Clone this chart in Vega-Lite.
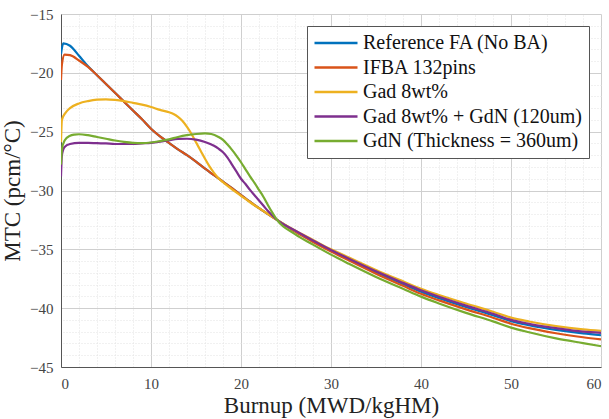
{
  "$schema": "https://vega.github.io/schema/vega-lite/v6.json",
  "width": 540,
  "height": 353,
  "autosize": "none",
  "padding": {"left": 61, "top": 14, "right": 8, "bottom": 52},
  "background": "white",
  "config": {"view": {"stroke": null}},
  "data": {"values": [
    {"series": "Reference FA (No BA)", "burnup": 0, "mtc": -18.4},
    {"series": "Reference FA (No BA)", "burnup": 0.25, "mtc": -17.5},
    {"series": "Reference FA (No BA)", "burnup": 1, "mtc": -17.7},
    {"series": "Reference FA (No BA)", "burnup": 2, "mtc": -18.55},
    {"series": "Reference FA (No BA)", "burnup": 3, "mtc": -19.45},
    {"series": "Reference FA (No BA)", "burnup": 4, "mtc": -20.2},
    {"series": "Reference FA (No BA)", "burnup": 5, "mtc": -20.95},
    {"series": "Reference FA (No BA)", "burnup": 6, "mtc": -21.7},
    {"series": "Reference FA (No BA)", "burnup": 7, "mtc": -22.45},
    {"series": "Reference FA (No BA)", "burnup": 8, "mtc": -23.2},
    {"series": "Reference FA (No BA)", "burnup": 9, "mtc": -23.95},
    {"series": "Reference FA (No BA)", "burnup": 10, "mtc": -24.75},
    {"series": "Reference FA (No BA)", "burnup": 11, "mtc": -25.4},
    {"series": "Reference FA (No BA)", "burnup": 12, "mtc": -25.95},
    {"series": "Reference FA (No BA)", "burnup": 13, "mtc": -26.5},
    {"series": "Reference FA (No BA)", "burnup": 14, "mtc": -27.0},
    {"series": "Reference FA (No BA)", "burnup": 15, "mtc": -27.55},
    {"series": "Reference FA (No BA)", "burnup": 16, "mtc": -28.15},
    {"series": "Reference FA (No BA)", "burnup": 17, "mtc": -28.7},
    {"series": "Reference FA (No BA)", "burnup": 18, "mtc": -29.25},
    {"series": "Reference FA (No BA)", "burnup": 19, "mtc": -29.8},
    {"series": "Reference FA (No BA)", "burnup": 20, "mtc": -30.4},
    {"series": "Reference FA (No BA)", "burnup": 21, "mtc": -30.95},
    {"series": "Reference FA (No BA)", "burnup": 22, "mtc": -31.5},
    {"series": "Reference FA (No BA)", "burnup": 23, "mtc": -32.0},
    {"series": "Reference FA (No BA)", "burnup": 24, "mtc": -32.5},
    {"series": "Reference FA (No BA)", "burnup": 26, "mtc": -33.45},
    {"series": "Reference FA (No BA)", "burnup": 28, "mtc": -34.3},
    {"series": "Reference FA (No BA)", "burnup": 30, "mtc": -35.1},
    {"series": "Reference FA (No BA)", "burnup": 32, "mtc": -35.85},
    {"series": "Reference FA (No BA)", "burnup": 35, "mtc": -36.95},
    {"series": "Reference FA (No BA)", "burnup": 38, "mtc": -37.95},
    {"series": "Reference FA (No BA)", "burnup": 40, "mtc": -38.6},
    {"series": "Reference FA (No BA)", "burnup": 42, "mtc": -39.15},
    {"series": "Reference FA (No BA)", "burnup": 45, "mtc": -39.9},
    {"series": "Reference FA (No BA)", "burnup": 48, "mtc": -40.6},
    {"series": "Reference FA (No BA)", "burnup": 50, "mtc": -41.1},
    {"series": "Reference FA (No BA)", "burnup": 52, "mtc": -41.45},
    {"series": "Reference FA (No BA)", "burnup": 55, "mtc": -41.85},
    {"series": "Reference FA (No BA)", "burnup": 58, "mtc": -42.15},
    {"series": "Reference FA (No BA)", "burnup": 60, "mtc": -42.3},

    {"series": "IFBA 132pins", "burnup": 0, "mtc": -20.6},
    {"series": "IFBA 132pins", "burnup": 0.1, "mtc": -19.3},
    {"series": "IFBA 132pins", "burnup": 0.4, "mtc": -18.45},
    {"series": "IFBA 132pins", "burnup": 1, "mtc": -18.5},
    {"series": "IFBA 132pins", "burnup": 2, "mtc": -18.95},
    {"series": "IFBA 132pins", "burnup": 3, "mtc": -19.5},
    {"series": "IFBA 132pins", "burnup": 4, "mtc": -20.2},
    {"series": "IFBA 132pins", "burnup": 5, "mtc": -20.95},
    {"series": "IFBA 132pins", "burnup": 6, "mtc": -21.7},
    {"series": "IFBA 132pins", "burnup": 7, "mtc": -22.45},
    {"series": "IFBA 132pins", "burnup": 8, "mtc": -23.2},
    {"series": "IFBA 132pins", "burnup": 9, "mtc": -23.95},
    {"series": "IFBA 132pins", "burnup": 10, "mtc": -24.75},
    {"series": "IFBA 132pins", "burnup": 11, "mtc": -25.4},
    {"series": "IFBA 132pins", "burnup": 12, "mtc": -25.95},
    {"series": "IFBA 132pins", "burnup": 13, "mtc": -26.5},
    {"series": "IFBA 132pins", "burnup": 14, "mtc": -27.0},
    {"series": "IFBA 132pins", "burnup": 15, "mtc": -27.55},
    {"series": "IFBA 132pins", "burnup": 16, "mtc": -28.15},
    {"series": "IFBA 132pins", "burnup": 17, "mtc": -28.7},
    {"series": "IFBA 132pins", "burnup": 18, "mtc": -29.25},
    {"series": "IFBA 132pins", "burnup": 19, "mtc": -29.8},
    {"series": "IFBA 132pins", "burnup": 20, "mtc": -30.4},
    {"series": "IFBA 132pins", "burnup": 21, "mtc": -30.95},
    {"series": "IFBA 132pins", "burnup": 22, "mtc": -31.5},
    {"series": "IFBA 132pins", "burnup": 23, "mtc": -32.0},
    {"series": "IFBA 132pins", "burnup": 24, "mtc": -32.5},
    {"series": "IFBA 132pins", "burnup": 26, "mtc": -33.5},
    {"series": "IFBA 132pins", "burnup": 28, "mtc": -34.37},
    {"series": "IFBA 132pins", "burnup": 30, "mtc": -35.18},
    {"series": "IFBA 132pins", "burnup": 32, "mtc": -35.95},
    {"series": "IFBA 132pins", "burnup": 35, "mtc": -37.07},
    {"series": "IFBA 132pins", "burnup": 38, "mtc": -38.1},
    {"series": "IFBA 132pins", "burnup": 40, "mtc": -38.78},
    {"series": "IFBA 132pins", "burnup": 42, "mtc": -39.34},
    {"series": "IFBA 132pins", "burnup": 45, "mtc": -40.1},
    {"series": "IFBA 132pins", "burnup": 48, "mtc": -40.81},
    {"series": "IFBA 132pins", "burnup": 50, "mtc": -41.32},
    {"series": "IFBA 132pins", "burnup": 52, "mtc": -41.7},
    {"series": "IFBA 132pins", "burnup": 55, "mtc": -42.13},
    {"series": "IFBA 132pins", "burnup": 58, "mtc": -42.47},
    {"series": "IFBA 132pins", "burnup": 60, "mtc": -42.66},

    {"series": "Gad 8wt%", "burnup": 0, "mtc": -25.9},
    {"series": "Gad 8wt%", "burnup": 0.1, "mtc": -24.0},
    {"series": "Gad 8wt%", "burnup": 0.5, "mtc": -23.4},
    {"series": "Gad 8wt%", "burnup": 1, "mtc": -23.0},
    {"series": "Gad 8wt%", "burnup": 2, "mtc": -22.6},
    {"series": "Gad 8wt%", "burnup": 3, "mtc": -22.4},
    {"series": "Gad 8wt%", "burnup": 4, "mtc": -22.28},
    {"series": "Gad 8wt%", "burnup": 5, "mtc": -22.25},
    {"series": "Gad 8wt%", "burnup": 6, "mtc": -22.3},
    {"series": "Gad 8wt%", "burnup": 7, "mtc": -22.4},
    {"series": "Gad 8wt%", "burnup": 8, "mtc": -22.55},
    {"series": "Gad 8wt%", "burnup": 9, "mtc": -22.7},
    {"series": "Gad 8wt%", "burnup": 10, "mtc": -22.9},
    {"series": "Gad 8wt%", "burnup": 11, "mtc": -23.15},
    {"series": "Gad 8wt%", "burnup": 12, "mtc": -23.35},
    {"series": "Gad 8wt%", "burnup": 12.5, "mtc": -23.5},
    {"series": "Gad 8wt%", "burnup": 13, "mtc": -23.75},
    {"series": "Gad 8wt%", "burnup": 13.5, "mtc": -24.1},
    {"series": "Gad 8wt%", "burnup": 14, "mtc": -24.6},
    {"series": "Gad 8wt%", "burnup": 14.5, "mtc": -25.2},
    {"series": "Gad 8wt%", "burnup": 15, "mtc": -25.9},
    {"series": "Gad 8wt%", "burnup": 15.5, "mtc": -26.6},
    {"series": "Gad 8wt%", "burnup": 16, "mtc": -27.3},
    {"series": "Gad 8wt%", "burnup": 16.5, "mtc": -27.95},
    {"series": "Gad 8wt%", "burnup": 17, "mtc": -28.5},
    {"series": "Gad 8wt%", "burnup": 17.5, "mtc": -28.95},
    {"series": "Gad 8wt%", "burnup": 18, "mtc": -29.3},
    {"series": "Gad 8wt%", "burnup": 19, "mtc": -29.9},
    {"series": "Gad 8wt%", "burnup": 20, "mtc": -30.45},
    {"series": "Gad 8wt%", "burnup": 21, "mtc": -31.0},
    {"series": "Gad 8wt%", "burnup": 22, "mtc": -31.5},
    {"series": "Gad 8wt%", "burnup": 23, "mtc": -32.0},
    {"series": "Gad 8wt%", "burnup": 24, "mtc": -32.5},
    {"series": "Gad 8wt%", "burnup": 26, "mtc": -33.4},
    {"series": "Gad 8wt%", "burnup": 28, "mtc": -34.2},
    {"series": "Gad 8wt%", "burnup": 30, "mtc": -35.0},
    {"series": "Gad 8wt%", "burnup": 32, "mtc": -35.7},
    {"series": "Gad 8wt%", "burnup": 35, "mtc": -36.75},
    {"series": "Gad 8wt%", "burnup": 38, "mtc": -37.72},
    {"series": "Gad 8wt%", "burnup": 40, "mtc": -38.35},
    {"series": "Gad 8wt%", "burnup": 42, "mtc": -38.88},
    {"series": "Gad 8wt%", "burnup": 45, "mtc": -39.6},
    {"series": "Gad 8wt%", "burnup": 48, "mtc": -40.3},
    {"series": "Gad 8wt%", "burnup": 50, "mtc": -40.8},
    {"series": "Gad 8wt%", "burnup": 52, "mtc": -41.13},
    {"series": "Gad 8wt%", "burnup": 55, "mtc": -41.52},
    {"series": "Gad 8wt%", "burnup": 58, "mtc": -41.8},
    {"series": "Gad 8wt%", "burnup": 60, "mtc": -41.93},

    {"series": "Gad 8wt% + GdN (120um)", "burnup": 0, "mtc": -28.8},
    {"series": "Gad 8wt% + GdN (120um)", "burnup": 0.1, "mtc": -27.0},
    {"series": "Gad 8wt% + GdN (120um)", "burnup": 0.4, "mtc": -26.3},
    {"series": "Gad 8wt% + GdN (120um)", "burnup": 1, "mtc": -26.05},
    {"series": "Gad 8wt% + GdN (120um)", "burnup": 2, "mtc": -25.95},
    {"series": "Gad 8wt% + GdN (120um)", "burnup": 3, "mtc": -25.95},
    {"series": "Gad 8wt% + GdN (120um)", "burnup": 4, "mtc": -25.98},
    {"series": "Gad 8wt% + GdN (120um)", "burnup": 5, "mtc": -26.0},
    {"series": "Gad 8wt% + GdN (120um)", "burnup": 6, "mtc": -26.05},
    {"series": "Gad 8wt% + GdN (120um)", "burnup": 7, "mtc": -26.05},
    {"series": "Gad 8wt% + GdN (120um)", "burnup": 8, "mtc": -26.05},
    {"series": "Gad 8wt% + GdN (120um)", "burnup": 9, "mtc": -26.0},
    {"series": "Gad 8wt% + GdN (120um)", "burnup": 10, "mtc": -25.95},
    {"series": "Gad 8wt% + GdN (120um)", "burnup": 11, "mtc": -25.85},
    {"series": "Gad 8wt% + GdN (120um)", "burnup": 12, "mtc": -25.72},
    {"series": "Gad 8wt% + GdN (120um)", "burnup": 13, "mtc": -25.62},
    {"series": "Gad 8wt% + GdN (120um)", "burnup": 14, "mtc": -25.6},
    {"series": "Gad 8wt% + GdN (120um)", "burnup": 15, "mtc": -25.68},
    {"series": "Gad 8wt% + GdN (120um)", "burnup": 16, "mtc": -25.88},
    {"series": "Gad 8wt% + GdN (120um)", "burnup": 17, "mtc": -26.2},
    {"series": "Gad 8wt% + GdN (120um)", "burnup": 17.5, "mtc": -26.45},
    {"series": "Gad 8wt% + GdN (120um)", "burnup": 18, "mtc": -26.75},
    {"series": "Gad 8wt% + GdN (120um)", "burnup": 18.5, "mtc": -27.2},
    {"series": "Gad 8wt% + GdN (120um)", "burnup": 19, "mtc": -27.8},
    {"series": "Gad 8wt% + GdN (120um)", "burnup": 19.5, "mtc": -28.4},
    {"series": "Gad 8wt% + GdN (120um)", "burnup": 20, "mtc": -29.0},
    {"series": "Gad 8wt% + GdN (120um)", "burnup": 20.5, "mtc": -29.45},
    {"series": "Gad 8wt% + GdN (120um)", "burnup": 21, "mtc": -29.95},
    {"series": "Gad 8wt% + GdN (120um)", "burnup": 21.5, "mtc": -30.4},
    {"series": "Gad 8wt% + GdN (120um)", "burnup": 22, "mtc": -30.85},
    {"series": "Gad 8wt% + GdN (120um)", "burnup": 22.5, "mtc": -31.3},
    {"series": "Gad 8wt% + GdN (120um)", "burnup": 23, "mtc": -31.75},
    {"series": "Gad 8wt% + GdN (120um)", "burnup": 23.5, "mtc": -32.15},
    {"series": "Gad 8wt% + GdN (120um)", "burnup": 24, "mtc": -32.5},
    {"series": "Gad 8wt% + GdN (120um)", "burnup": 26, "mtc": -33.4},
    {"series": "Gad 8wt% + GdN (120um)", "burnup": 28, "mtc": -34.25},
    {"series": "Gad 8wt% + GdN (120um)", "burnup": 30, "mtc": -35.05},
    {"series": "Gad 8wt% + GdN (120um)", "burnup": 32, "mtc": -35.8},
    {"series": "Gad 8wt% + GdN (120um)", "burnup": 35, "mtc": -36.87},
    {"series": "Gad 8wt% + GdN (120um)", "burnup": 38, "mtc": -37.85},
    {"series": "Gad 8wt% + GdN (120um)", "burnup": 40, "mtc": -38.48},
    {"series": "Gad 8wt% + GdN (120um)", "burnup": 42, "mtc": -39.03},
    {"series": "Gad 8wt% + GdN (120um)", "burnup": 45, "mtc": -39.78},
    {"series": "Gad 8wt% + GdN (120um)", "burnup": 48, "mtc": -40.48},
    {"series": "Gad 8wt% + GdN (120um)", "burnup": 50, "mtc": -41.0},
    {"series": "Gad 8wt% + GdN (120um)", "burnup": 52, "mtc": -41.33},
    {"series": "Gad 8wt% + GdN (120um)", "burnup": 55, "mtc": -41.7},
    {"series": "Gad 8wt% + GdN (120um)", "burnup": 58, "mtc": -42.0},
    {"series": "Gad 8wt% + GdN (120um)", "burnup": 60, "mtc": -42.1},

    {"series": "GdN (Thickness = 360um)", "burnup": 0, "mtc": -27.8},
    {"series": "GdN (Thickness = 360um)", "burnup": 0.1, "mtc": -26.5},
    {"series": "GdN (Thickness = 360um)", "burnup": 0.4, "mtc": -25.75},
    {"series": "GdN (Thickness = 360um)", "burnup": 1, "mtc": -25.35},
    {"series": "GdN (Thickness = 360um)", "burnup": 1.5, "mtc": -25.25},
    {"series": "GdN (Thickness = 360um)", "burnup": 2, "mtc": -25.22},
    {"series": "GdN (Thickness = 360um)", "burnup": 3, "mtc": -25.3},
    {"series": "GdN (Thickness = 360um)", "burnup": 4, "mtc": -25.45},
    {"series": "GdN (Thickness = 360um)", "burnup": 5, "mtc": -25.6},
    {"series": "GdN (Thickness = 360um)", "burnup": 6, "mtc": -25.75},
    {"series": "GdN (Thickness = 360um)", "burnup": 7, "mtc": -25.87},
    {"series": "GdN (Thickness = 360um)", "burnup": 8, "mtc": -25.95},
    {"series": "GdN (Thickness = 360um)", "burnup": 9, "mtc": -25.97},
    {"series": "GdN (Thickness = 360um)", "burnup": 10, "mtc": -25.92},
    {"series": "GdN (Thickness = 360um)", "burnup": 11, "mtc": -25.8},
    {"series": "GdN (Thickness = 360um)", "burnup": 12, "mtc": -25.65},
    {"series": "GdN (Thickness = 360um)", "burnup": 13, "mtc": -25.45},
    {"series": "GdN (Thickness = 360um)", "burnup": 14, "mtc": -25.3},
    {"series": "GdN (Thickness = 360um)", "burnup": 15, "mtc": -25.2},
    {"series": "GdN (Thickness = 360um)", "burnup": 16, "mtc": -25.15},
    {"series": "GdN (Thickness = 360um)", "burnup": 16.7, "mtc": -25.2},
    {"series": "GdN (Thickness = 360um)", "burnup": 17.5, "mtc": -25.45},
    {"series": "GdN (Thickness = 360um)", "burnup": 18, "mtc": -25.7},
    {"series": "GdN (Thickness = 360um)", "burnup": 18.5, "mtc": -26.1},
    {"series": "GdN (Thickness = 360um)", "burnup": 19, "mtc": -26.55},
    {"series": "GdN (Thickness = 360um)", "burnup": 19.5, "mtc": -27.05},
    {"series": "GdN (Thickness = 360um)", "burnup": 20, "mtc": -27.6},
    {"series": "GdN (Thickness = 360um)", "burnup": 20.5, "mtc": -28.2},
    {"series": "GdN (Thickness = 360um)", "burnup": 21, "mtc": -28.8},
    {"series": "GdN (Thickness = 360um)", "burnup": 21.5, "mtc": -29.35},
    {"series": "GdN (Thickness = 360um)", "burnup": 22, "mtc": -29.95},
    {"series": "GdN (Thickness = 360um)", "burnup": 22.5, "mtc": -30.55},
    {"series": "GdN (Thickness = 360um)", "burnup": 23, "mtc": -31.25},
    {"series": "GdN (Thickness = 360um)", "burnup": 23.5, "mtc": -31.9},
    {"series": "GdN (Thickness = 360um)", "burnup": 24, "mtc": -32.5},
    {"series": "GdN (Thickness = 360um)", "burnup": 26, "mtc": -33.7},
    {"series": "GdN (Thickness = 360um)", "burnup": 28, "mtc": -34.6},
    {"series": "GdN (Thickness = 360um)", "burnup": 30, "mtc": -35.45},
    {"series": "GdN (Thickness = 360um)", "burnup": 32, "mtc": -36.23},
    {"series": "GdN (Thickness = 360um)", "burnup": 35, "mtc": -37.35},
    {"series": "GdN (Thickness = 360um)", "burnup": 38, "mtc": -38.35},
    {"series": "GdN (Thickness = 360um)", "burnup": 40, "mtc": -39.02},
    {"series": "GdN (Thickness = 360um)", "burnup": 42, "mtc": -39.6},
    {"series": "GdN (Thickness = 360um)", "burnup": 45, "mtc": -40.4},
    {"series": "GdN (Thickness = 360um)", "burnup": 48, "mtc": -41.12},
    {"series": "GdN (Thickness = 360um)", "burnup": 50, "mtc": -41.65},
    {"series": "GdN (Thickness = 360um)", "burnup": 52, "mtc": -42.05},
    {"series": "GdN (Thickness = 360um)", "burnup": 55, "mtc": -42.57},
    {"series": "GdN (Thickness = 360um)", "burnup": 58, "mtc": -42.97},
    {"series": "GdN (Thickness = 360um)", "burnup": 60, "mtc": -43.23}
  ]},
  "layer": [
    {
      "mark": {"type": "point", "opacity": 0},
      "encoding": {
        "x": {
          "field": "burnup", "type": "quantitative",
          "scale": {"domain": [0, 60], "nice": false},
          "axis": {
            "orient": "top", "values": [2, 4, 6, 8, 12, 14, 16, 18, 22, 24, 26, 28, 32, 34, 36, 38, 42, 44, 46, 48, 52, 54, 56, 58],
            "grid": true, "gridColor": "#e3e3e3", "gridDash": [1, 2], "gridWidth": 1,
            "labels": false, "ticks": false, "domain": false, "title": null
          }
        },
        "y": {
          "field": "mtc", "type": "quantitative",
          "scale": {"domain": [-45, -15], "nice": false},
          "axis": {
            "orient": "right", "values": [-44, -43, -42, -41, -39, -38, -37, -36, -34, -33, -32, -31, -29, -28, -27, -26, -24, -23, -22, -21, -19, -18, -17, -16],
            "grid": true, "gridColor": "#e3e3e3", "gridDash": [1, 2], "gridWidth": 1,
            "labels": false, "ticks": false, "domain": false, "title": null
          }
        }
      }
    },
    {
      "mark": {"type": "line", "strokeWidth": 2.2, "interpolate": "monotone", "clip": true},
      "encoding": {
        "x": {
          "field": "burnup", "type": "quantitative",
          "scale": {"domain": [0, 60], "nice": false},
          "axis": {
            "orient": "bottom", "values": [0, 10, 20, 30, 40, 50, 60],
            "grid": true, "gridColor": "#cfcfcf", "gridWidth": 1,
            "domainColor": "#555", "domainWidth": 1,
            "ticks": false, "labelPadding": 9,
            "labelFont": "Liberation Serif, DejaVu Serif", "labelFontSize": 15, "labelColor": "#444",
            "title": "Burnup (MWD/kgHM)", "titleFont": "Liberation Serif, DejaVu Serif", "titleFontSize": 23, "titleFontWeight": "normal",
            "titleColor": "#222", "titlePadding": 3
          }
        },
        "y": {
          "field": "mtc", "type": "quantitative",
          "scale": {"domain": [-45, -15], "nice": false},
          "axis": {
            "orient": "left", "values": [-45, -40, -35, -30, -25, -20, -15],
            "grid": true, "gridColor": "#cfcfcf", "gridWidth": 1,
            "domainColor": "#555", "domainWidth": 1,
            "ticks": false, "labelPadding": 8,
            "labelFont": "Liberation Serif, DejaVu Serif", "labelFontSize": 15, "labelColor": "#444",
            "title": "MTC (pcm/°C)", "titleFont": "Liberation Serif, DejaVu Serif", "titleFontSize": 23, "titleFontWeight": "normal",
            "titleColor": "#222", "titlePadding": 5
          }
        },
        "color": {
          "field": "series", "type": "nominal",
          "scale": {
            "domain": ["Reference FA (No BA)", "IFBA 132pins", "Gad 8wt%", "Gad 8wt% + GdN (120um)", "GdN (Thickness = 360um)"],
            "range": ["#0072BD", "#D95319", "#EDB120", "#7E2F8E", "#77AC30"]
          },
          "legend": {
            "orient": "top-right", "offset": 12,
            "title": null, "symbolType": "stroke", "symbolSize": 1849, "symbolStrokeWidth": 2.5,
            "labelFont": "Liberation Serif, DejaVu Serif", "labelFontSize": 20, "labelColor": "#111", "labelLimit": 400,
            "labelOffset": 4, "clipHeight": 22, "rowPadding": 2.5, "padding": 6,
            "strokeColor": "#555", "fillColor": "white"
          }
        }
      }
    }
  ],
  "resolve": {"axis": {"x": "independent", "y": "independent"}}
}
